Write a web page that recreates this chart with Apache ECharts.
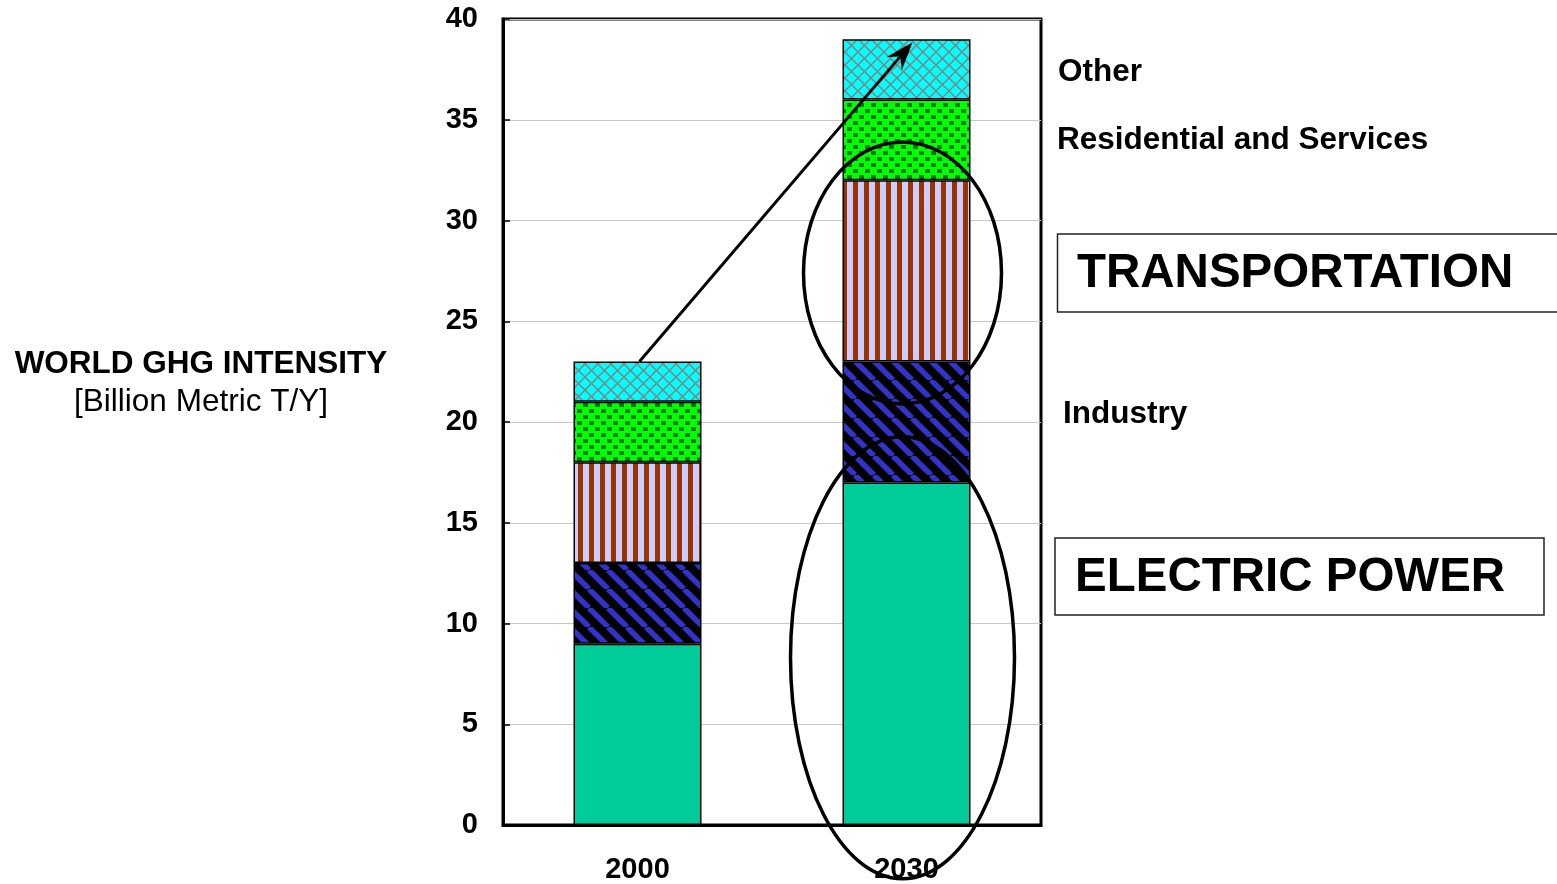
<!DOCTYPE html>
<html><head><meta charset="utf-8">
<script src="https://cdn.jsdelivr.net/npm/echarts@6/dist/echarts.min.js"></script>
<style>html,body{margin:0;padding:0;background:#fff;overflow:hidden}#c{width:1557px;height:884px}</style>
</head><body><div id="c"></div>
<script>
// ---- data ----
const years = ['2000', '2030'];
const electricPower = [9, 17];
const industry = [4, 6];
const transportation = [5, 9];
const residential = [3, 4];
const other = [2, 3];
const yMin = 0, yMax = 40, yInterval = 5;
const sectorNames = ['Electric Power', 'Industry', 'Transportation', 'Residential and Services', 'Other'];

// ---- patterns ----
function tile(w, h, draw) {
  const c = document.createElement('canvas');
  c.width = w; c.height = h;
  const g = c.getContext('2d');
  draw(g, w, h);
  return { image: c, repeat: 'repeat' };
}
const patOther = tile(13, 13, (g, w, h) => {
  g.fillStyle = '#00FFFF'; g.fillRect(0, 0, w, h);
  g.strokeStyle = '#8c7c7c'; g.lineWidth = 1.4;
  g.beginPath(); g.moveTo(0, 0); g.lineTo(w, h); g.moveTo(0, h); g.lineTo(w, 0); g.stroke();
});
const patResid = tile(12, 12, (g, w, h) => {
  g.fillStyle = '#00FF00'; g.fillRect(0, 0, w, h);
  g.fillStyle = '#007800';
  g.fillRect(1, 1, 5, 4); g.fillRect(7, 7, 5, 4);
});
const patTrans = tile(11, 4, (g, w, h) => {
  g.fillStyle = '#CCCCFF'; g.fillRect(0, 0, w, h);
  g.fillStyle = '#993300'; g.fillRect(6, 0, 5, h);
});
const patInd = tile(19, 19, (g, w, h) => {
  g.fillStyle = '#000000'; g.fillRect(0, 0, w, h);
  g.strokeStyle = '#3333CC'; g.lineWidth = 5.5;
  g.beginPath();
  for (const x0 of [-w, 0, w]) { g.moveTo(x0, 0); g.lineTo(x0 + w, h); }
  g.stroke();
});
const fills = ['#00CC99', patInd, patTrans, patResid, patOther];
const values = [electricPower, industry, transportation, residential, other];

const chart = echarts.init(document.getElementById('c'), null, { renderer: 'canvas' });
const font = 'Liberation Sans, Arial, Helvetica, sans-serif';

const series = sectorNames.map((n, i) => ({
  name: n, type: 'bar', stack: 'total', barWidth: 128,
  data: values[i],
  itemStyle: { color: fills[i], borderColor: '#000', borderWidth: 1.5 },
  emphasis: { disabled: true }, animation: false
}));

chart.setOption({
  animation: false,
  grid: { left: 503, top: 19, right: 516, bottom: 57, show: true, borderColor: '#000', borderWidth: 3, backgroundColor: 'transparent' },
  xAxis: {
    type: 'category', data: years,
    axisLine: { lineStyle: { color: '#000', width: 3 } },
    axisTick: { inside: true, length: 9, lineStyle: { color: '#000', width: 1.5 } },
    axisLabel: { fontFamily: font, fontWeight: 'bold', fontSize: 29, color: '#000', margin: 30 },
    splitLine: { show: false }
  },
  yAxis: {
    type: 'value', min: yMin, max: yMax, interval: yInterval,
    axisLine: { show: true, lineStyle: { color: '#000', width: 3 } },
    axisTick: { show: true, inside: true, length: 7, lineStyle: { color: '#000', width: 1.5 } },
    axisLabel: { fontFamily: font, fontWeight: 'bold', fontSize: 29, color: '#000', margin: 25 },
    splitLine: { show: true, lineStyle: { color: '#c8c8c8', width: 1 } }
  },
  series: series
});

// ---- annotations ----
const px = (cat, v) => chart.convertToPixel({ gridIndex: 0 }, [cat, v]);
const total2000 = electricPower[0] + industry[0] + transportation[0] + residential[0] + other[0];
const a0 = px('2000', total2000);
const a1 = px('2030', 38.9);
const start = [a0[0] + 2, a0[1]];
const tip = [a1[0] + 6, a1[1] + 1];
const ang = Math.atan2(tip[1] - start[1], tip[0] - start[0]);
const L = 28, W = 10, N = 19;
const ca = Math.cos(ang), sa = Math.sin(ang);
const back = (d, off) => [tip[0] - d * ca - off * sa, tip[1] - d * sa + off * ca];
const headPts = [tip, back(L, W), back(N, 0), back(L, -W)];
const notch = back(N, 0);

const e1 = px('2030', 27.4);
const e2 = px('2030', 8.3);

const txt = (x, y, text, size, weight, align) => ({
  type: 'text', x: x, y: y, z: 100,
  style: { text: text, fontFamily: font, fontSize: size, fontWeight: weight, fill: '#000', align: align || 'left', verticalAlign: 'middle' }
});

chart.setOption({
  graphic: [
    { type: 'line', z: 100, shape: { x1: start[0], y1: start[1], x2: notch[0], y2: notch[1] }, style: { stroke: '#000', lineWidth: 3 } },
    { type: 'polygon', z: 100, shape: { points: headPts }, style: { fill: '#000' } },
    { type: 'ellipse', z: 100, shape: { cx: e1[0] - 4, cy: e1[1], rx: 99, ry: 131 }, style: { fill: 'none', stroke: '#000', lineWidth: 3.5 } },
    { type: 'ellipse', z: 100, shape: { cx: e2[0] - 4, cy: e2[1], rx: 112, ry: 221 }, style: { fill: 'none', stroke: '#000', lineWidth: 3.5 } },
    txt(1058, 72, 'Other', 31.5, 'bold'),
    txt(1057, 140, 'Residential and Services', 31.5, 'bold'),
    { type: 'rect', z: 100, shape: { x: 1057.5, y: 234, width: 520, height: 78 }, style: { fill: 'none', stroke: '#222', lineWidth: 1.5 } },
    txt(1077, 274, 'TRANSPORTATION', 47.5, 'bold'),
    txt(1063, 414, 'Industry', 31.5, 'bold'),
    { type: 'rect', z: 100, shape: { x: 1055, y: 538, width: 489, height: 77 }, style: { fill: 'none', stroke: '#222', lineWidth: 1.5 } },
    txt(1075, 578, 'ELECTRIC POWER', 47.5, 'bold'),
    txt(201, 364, 'WORLD GHG INTENSITY', 31.5, 'bold', 'center'),
    txt(201, 402, '[Billion Metric T/Y]', 31.5, 'normal', 'center')
  ]
});
</script></body></html>
